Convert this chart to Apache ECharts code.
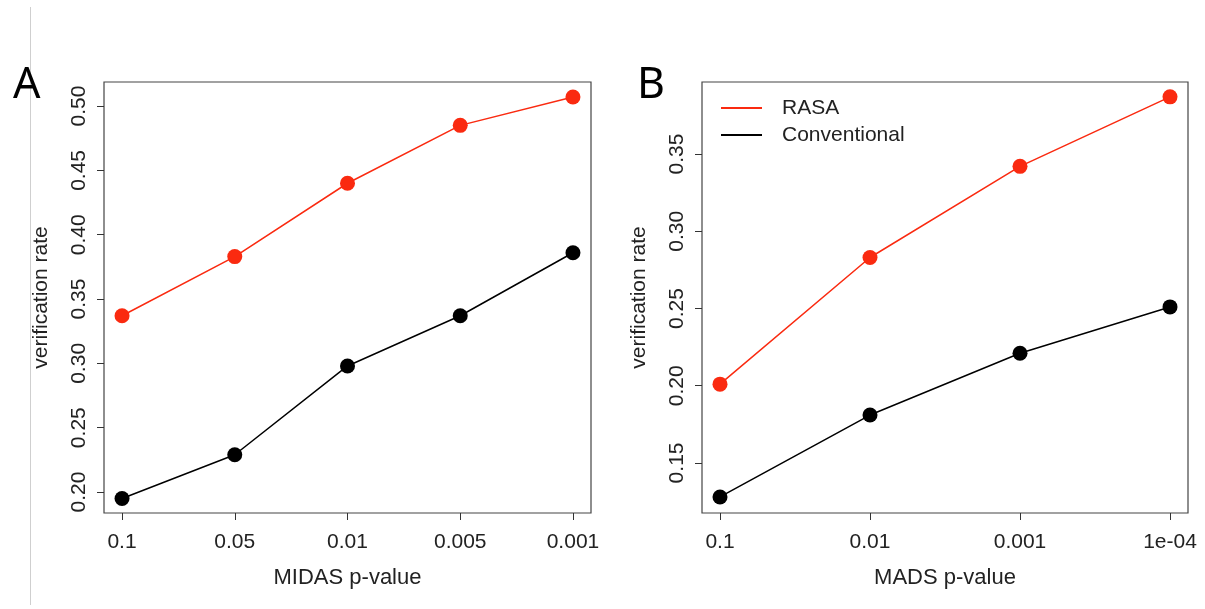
<!DOCTYPE html>
<html>
<head>
<meta charset="utf-8">
<script src="https://cdn.jsdelivr.net/npm/echarts@6/dist/echarts.min.js"></script>
<style>
html,body{margin:0;padding:0;background:#fff;}
#chart{width:1205px;height:609px;}
</style>
</head>
<body>
<div id="chart"></div>
<script>
// Panel A data
const midasLabels = ['0.1', '0.05', '0.01', '0.005', '0.001'];
const midasRASA = [0.337, 0.383, 0.440, 0.485, 0.507];
const midasConv = [0.195, 0.229, 0.298, 0.337, 0.386];
const yTicksA = [0.20, 0.25, 0.30, 0.35, 0.40, 0.45, 0.50];

// Panel B data
const madsLabels = ['0.1', '0.01', '0.001', '1e-04'];
const madsRASA = [0.201, 0.283, 0.342, 0.387];
const madsConv = [0.128, 0.181, 0.221, 0.251];
const yTicksB = [0.15, 0.20, 0.25, 0.30, 0.35];

const RED = '#fa2a10';
const BLACK = '#000000';
const TXT = '#222222';
const FONT = 'Liberation Sans, Arial, sans-serif';

function idx(arr){ return arr.map((_, i) => i + 1); }
function pairs(vals){ return vals.map((v, i) => [i + 1, v]); }

function xAxisCfg(gridIndex, labels, name){
  const n = labels.length;
  const pad = (n - 1) * 0.04;
  return {
    type: 'value', gridIndex: gridIndex,
    min: 1 - pad, max: n + pad,
    name: name, nameLocation: 'middle', nameGap: 54,
    nameTextStyle: {fontSize: 22, color: TXT, fontFamily: FONT},
    axisLine: {show: false},
    splitLine: {show: false},
    axisTick: {show: true, inside: false, length: 7, customValues: idx(labels), lineStyle: {color: '#333', width: 1}},
    axisLabel: {show: true, margin: 19, fontSize: 21, color: TXT, fontFamily: FONT,
      customValues: idx(labels),
      formatter: v => labels[Math.round(v) - 1]}
  };
}

function yAxisCfg(gridIndex, ticks, min, max){
  return {
    type: 'value', gridIndex: gridIndex,
    min: min, max: max,
    name: 'verification rate', nameLocation: 'middle', nameGap: 52, nameRotate: 90,
    nameTextStyle: {fontSize: 21, color: TXT, fontFamily: FONT},
    axisLine: {show: false},
    splitLine: {show: false},
    axisTick: {show: true, inside: false, length: 7, customValues: ticks, lineStyle: {color: '#333', width: 1}},
    axisLabel: {show: true, margin: 14, rotate: 90, fontSize: 21, color: TXT, fontFamily: FONT,
      customValues: ticks,
      formatter: v => v.toFixed(2)}
  };
}

function lineSeries(name, xi, yi, vals, color){
  return {
    name: name, type: 'line', xAxisIndex: xi, yAxisIndex: yi,
    data: pairs(vals),
    symbol: 'circle', symbolSize: 15,
    lineStyle: {color: color, width: 1.5},
    itemStyle: {color: color},
    emphasis: {disabled: true},
    animation: false
  };
}

const chart = echarts.init(document.getElementById('chart'), null, {renderer: 'canvas'});
chart.setOption({
  backgroundColor: '#ffffff',
  animation: false,
  title: [
    {text: 'A', left: 8, top: 59, textStyle: {fontSize: 43, fontWeight: 'normal', color: '#000', fontFamily: 'Noto Sans, sans-serif'}},
    {text: 'B', left: 632, top: 59, textStyle: {fontSize: 43, fontWeight: 'normal', color: '#000', fontFamily: 'Noto Sans, sans-serif'}}
  ],
  graphic: [
    {type: 'line', shape: {x1: 30.5, y1: 7, x2: 30.5, y2: 605}, style: {stroke: '#cfcfcf', lineWidth: 1}, silent: true}
  ],
  legend: {
    data: ['RASA', 'Conventional'],
    orient: 'vertical', left: 721, top: 97, padding: 0,
    icon: 'rect', itemWidth: 41, itemHeight: 2, itemGap: 5,
    textStyle: {fontSize: 21, color: TXT, fontFamily: FONT, padding: [0, 0, 0, 15], lineHeight: 22},
    selectedMode: false
  },
  grid: [
    {left: 104, top: 82, width: 487, height: 431, show: true, borderColor: '#444', borderWidth: 1.2, backgroundColor: 'transparent'},
    {left: 702, top: 82, width: 486, height: 431, show: true, borderColor: '#444', borderWidth: 1.2, backgroundColor: 'transparent'}
  ],
  xAxis: [
    xAxisCfg(0, midasLabels, 'MIDAS p-value'),
    xAxisCfg(1, madsLabels, 'MADS p-value')
  ],
  yAxis: [
    yAxisCfg(0, yTicksA, 0.1837, 0.5187),
    yAxisCfg(1, yTicksB, 0.1176, 0.3966)
  ],
  series: [
    lineSeries('RASA', 0, 0, midasRASA, RED),
    lineSeries('Conventional', 0, 0, midasConv, BLACK),
    lineSeries('RASA', 1, 1, madsRASA, RED),
    lineSeries('Conventional', 1, 1, madsConv, BLACK)
  ]
});
</script>
</body>
</html>
